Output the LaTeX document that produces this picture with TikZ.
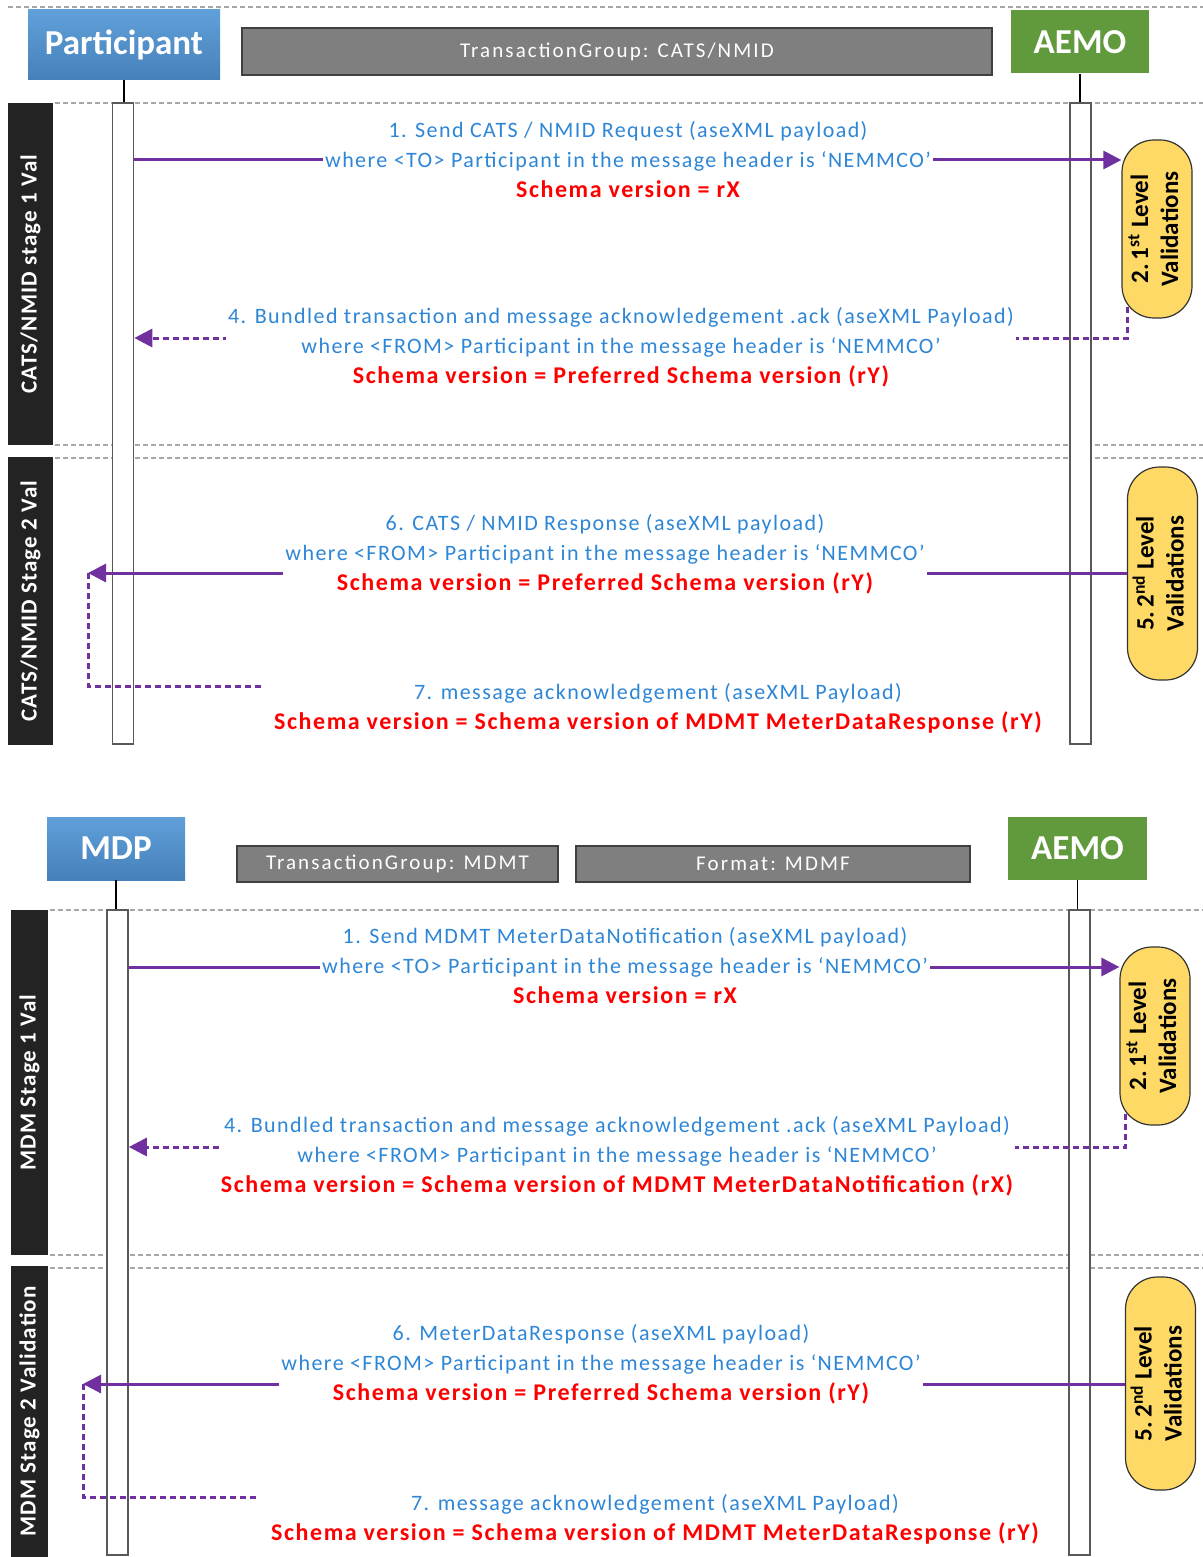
\documentclass[tikz,border=0pt]{standalone}
\usepackage{fontspec}
\setmainfont{Carlito}
\newfontfamily\msgfont[LetterSpace=6.5]{Carlito}
\newfontfamily\barfont[LetterSpace=10]{Carlito}
\newfontfamily\bandfont[LetterSpace=5]{Carlito}
\usepackage{xcolor}
\usetikzlibrary{arrows.meta}

\definecolor{msgblue}{RGB}{46,134,214}
\definecolor{msgpurple}{RGB}{112,48,160}
\definecolor{valyellow}{RGB}{255,217,102}
\definecolor{hdrblueA}{RGB}{96,160,218}
\definecolor{hdrblueB}{RGB}{70,128,186}
\definecolor{hdrgreen}{RGB}{97,154,60}
\definecolor{bandgrey}{RGB}{35,35,35}
\definecolor{tggrey}{RGB}{127,127,127}

\newcommand{\schemaln}[1]{{\color{red}\bfseries\fontsize{12}{15}\selectfont #1}}
\newcommand{\valtext}[1]{\rotatebox{90}{\begin{tabular}{@{}c@{}}#1 Level\\Validations\end{tabular}}}

\begin{document}
\begin{tikzpicture}[x=0.5pt,y=-0.5pt,
    sep/.style={draw=black!35, line width=0.6pt, dash pattern=on 2.5pt off 1.5pt},
    actorbox/.style={text=white, font=\fontsize{17.5}{20}\selectfont\bfseries, inner sep=0pt},
    bluebox/.style={actorbox, top color=hdrblueA, bottom color=hdrblueB},
    greenbox/.style={actorbox, fill=hdrgreen},
    groupbar/.style={draw=black!75, line width=1pt, fill=tggrey, text=white, font=\barfont\fontsize{10.5}{12}\selectfont, inner sep=0pt},
    lifebar/.style={draw=black!65, line width=0.8pt, fill=white, minimum width=10.5pt, inner sep=0pt},
    band/.style={fill=bandgrey, text=white, rotate=90, font=\bandfont\fontsize{11.5}{13}\selectfont\bfseries, inner sep=0pt},
    valbox/.style={draw=black!80, line width=0.6pt, fill=valyellow, rounded corners=16pt, minimum width=35pt, font=\fontsize{12.5}{15}\selectfont\bfseries, inner sep=0pt},
    msg/.style={draw=msgpurple, line width=1.5pt, -{Triangle[length=9pt,width=9pt]}},
    ack/.style={draw=msgpurple, line width=1.5pt, dash pattern=on 3pt off 2pt},
    msgtext/.style={fill=white, text=msgblue, align=center, font=\msgfont\fontsize{11}{15}\selectfont, inner sep=1pt}]
    \useasboundingbox (0,0) rectangle (1203,1557);

    % ---------- CATS/NMID ----------
    % Separators
    \foreach \y/\xa in {7/8, 103/55, 445/55, 458/55}
        \draw[sep] (\xa,\y) -- (1203,\y);

    % Actors
    \node[bluebox, minimum width=96pt, minimum height=35pt] (part) at (124,45) {Participant};
    \node[groupbar, minimum width=375pt, minimum height=23.5pt] (tg1) at (617,52) {TransactionGroup: CATS/NMID};
    \node[greenbox, minimum width=69pt, minimum height=31.5pt] (aemo1) at (1080,42) {AEMO};

    % Lifelines
    \node[lifebar, minimum height=320.5pt] (pbar1) at (123,423.5) {};
    \node[lifebar, minimum height=320.5pt] (abar1) at (1080.5,423.5) {};
    \draw[thick] (part.south) -- (part.south |- pbar1.north);
    \draw[thick] (aemo1.south) -- (aemo1.south |- abar1.north);

    % Stages
    \node[band, minimum width=171pt, minimum height=22.5pt] (st1) at (30.5,274) {CATS/NMID stage 1 Val};
    \node[band, minimum width=144pt, minimum height=22.5pt] (st2) at (30.5,601) {CATS/NMID Stage 2 Val};

    % Validations
    \node[valbox, minimum height=89pt] (val1) at (1157,229) {\valtext{2.\,1\textsuperscript{st}}};
    \node[valbox, minimum height=106.5pt] (val2) at (1162.5,573.5) {\valtext{5.\,2\textsuperscript{nd}}};

    % Messages
    \coordinate (r1) at (0,160);
    \coordinate (r4) at (0,338);
    \coordinate (r6) at (0,573);
    \coordinate (ret6) at (88,573);
    \coordinate (a7) at (262,686);
    \draw[msg] (pbar1.east |- r1) -- (val1.west |- r1);
    \draw[ack, -{Triangle[length=9pt,width=9pt]}] ([xshift=3pt,yshift=6pt]val1.south west) |- (pbar1.east |- r4);
    \draw[msg] (val2.west |- r6) -- (ret6);
    \draw[ack] (ret6) |- (a7);

    \node[msgtext] (m1) at (628,160) {1. Send CATS / NMID Request (aseXML payload)\\where <TO> Participant in the message header is ‘NEMMCO’\\\schemaln{Schema version = rX}};
    \node[msgtext] (m4) at (621,347) {4. Bundled transaction and message acknowledgement .ack (aseXML Payload)\\where <FROM> Participant in the message header is ‘NEMMCO’\\\schemaln{Schema version = Preferred Schema version (rY)}};
    \node[msgtext] (m6) at (605,554) {6. CATS / NMID Response (aseXML payload)\\where <FROM> Participant in the message header is ‘NEMMCO’\\\schemaln{Schema version = Preferred Schema version (rY)}};
    \node[msgtext] (m7) at (658,708) {7. message acknowledgement (aseXML Payload)\\\schemaln{Schema version = Schema version of MDMT MeterDataResponse (rY)}};

    % ---------- MDMT ----------
    % Separators
    \foreach \y in {910, 1255, 1268}
        \draw[sep] (50,\y) -- (1203,\y);

    % Actors
    \node[bluebox, minimum width=69pt, minimum height=31.5pt] (mdp) at (116,848.5) {MDP};
    \node[groupbar, minimum width=160.5pt, minimum height=18pt] (tg2) at (397.5,864) {TransactionGroup: MDMT};
    \node[groupbar, minimum width=197pt, minimum height=18pt] (fmt) at (773,864) {Format: MDMF};
    \node[greenbox, minimum width=69.5pt, minimum height=31.5pt] (aemo2) at (1077.5,848.5) {AEMO};

    % Lifelines
    \node[lifebar, minimum height=322.5pt] (pbar2) at (117.5,1232.5) {};
    \node[lifebar, minimum height=322.5pt] (abar2) at (1079.5,1232.5) {};
    \draw[thick] (mdp.south) -- (mdp.south |- pbar2.north);
    \draw[thick] (aemo2.south) -- (aemo2.south |- abar2.north);

    % Stages
    \node[band, minimum width=172.5pt, minimum height=18.5pt] (st3) at (29.5,1082.5) {MDM Stage 1 Val};
    \node[band, minimum width=145.5pt, minimum height=18.5pt] (st4) at (29.5,1411.5) {MDM Stage 2 Validation};

    % Validations
    \node[valbox, minimum height=89pt] (val3) at (1155,1036) {\valtext{2.\,1\textsuperscript{st}}};
    \node[valbox, minimum height=106.5pt] (val4) at (1160.5,1383.5) {\valtext{5.\,2\textsuperscript{nd}}};

    % Messages
    \coordinate (s1) at (0,967);
    \coordinate (s4) at (0,1147);
    \coordinate (s6) at (0,1384);
    \coordinate (ret6b) at (83,1384);
    \coordinate (a7b) at (258,1497);
    \draw[msg] (pbar2.east |- s1) -- (val3.west |- s1);
    \draw[ack, -{Triangle[length=9pt,width=9pt]}] ([xshift=3pt,yshift=6pt]val3.south west) |- (pbar2.east |- s4);
    \draw[msg] (val4.west |- s6) -- (ret6b);
    \draw[ack] (ret6b) |- (a7b);

    \node[msgtext] (n1) at (625,966) {1. Send MDMT MeterDataNotification (aseXML payload)\\where <TO> Participant in the message header is ‘NEMMCO’\\\schemaln{Schema version = rX}};
    \node[msgtext] (n4) at (617,1156) {4. Bundled transaction and message acknowledgement .ack (aseXML Payload)\\where <FROM> Participant in the message header is ‘NEMMCO’\\\schemaln{Schema version = Schema version of MDMT MeterDataNotification (rX)}};
    \node[msgtext] (n6) at (601,1364) {6. MeterDataResponse (aseXML payload)\\where <FROM> Participant in the message header is ‘NEMMCO’\\\schemaln{Schema version = Preferred Schema version (rY)}};
    \node[msgtext] (n7) at (655,1519) {7. message acknowledgement (aseXML Payload)\\\schemaln{Schema version = Schema version of MDMT MeterDataResponse (rY)}};
\end{tikzpicture}
\end{document}
